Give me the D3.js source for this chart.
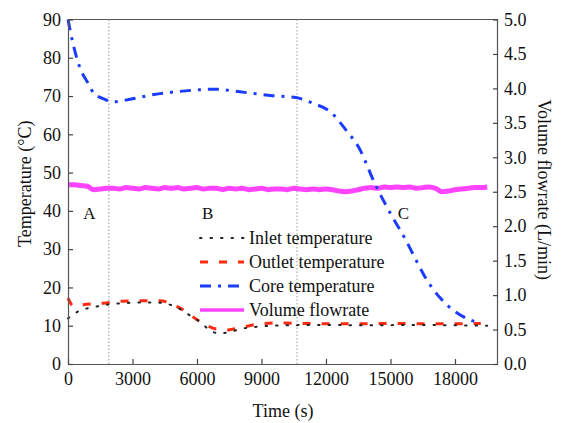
<!DOCTYPE html>
<html>
<head>
<meta charset="utf-8">
<script src="https://cdn.jsdelivr.net/npm/d3@7"></script>
<style>
  body { margin: 0; background: #fff; }
  text { font-family: "Liberation Serif", "Times New Roman", serif; fill: #111; }
</style>
</head>
<body>
<script>
// values
const coreTime = [0, 200, 560, 930, 1200, 1600, 2100, 3000, 4000, 5000, 6000, 6800, 8000, 9500, 10600, 11400, 12200, 13000, 13500, 14300, 15000, 15700, 16200, 16600, 17400, 18400, 19200]
const coreTemp = [90, 84.5, 77.3, 73.4, 70.7, 69.4, 68.5, 69.3, 70.4, 71.1, 71.6, 71.8, 71.1, 70.1, 69.6, 68.1, 65.9, 60.6, 56.8, 46.8, 39.3, 32.5, 27.0, 22.8, 16.7, 12.3, 10.6]

const inletTime = [0, 400, 870, 1330, 1950, 3000, 4000, 4900, 5750, 6140, 6680, 7070, 7530, 8150, 8930, 10000, 12000, 14000, 16000, 18000, 19500]
const inletTemp = [11.9, 13.5, 14.5, 15.0, 15.6, 16.0, 16.1, 15.2, 12.4, 11.0, 8.5, 8.0, 8.4, 9.3, 9.8, 10.1, 10.2, 10.1, 10.2, 10.1, 10.0]

const outletTime = [0, 250, 700, 1640, 2570, 3500, 4280, 5210, 6140, 6915, 7400, 7845, 8930, 9700, 11000, 13000, 15000, 17000, 19200]
const outletTemp = [17.2, 15.2, 15.5, 15.9, 16.4, 16.5, 16.5, 14.6, 11.1, 9.1, 8.9, 9.3, 10.5, 10.7, 10.6, 10.5, 10.6, 10.5, 10.6]

const flowTime = [0, 300, 600, 900, 1200, 1500, 1800, 2100, 2400, 2700, 3000, 3300, 3600, 3900, 4200, 4500, 4800, 5100, 5400, 5700,
  6000, 6300, 6600, 6900, 7200, 7500, 7800, 8100, 8400, 8700, 9000, 9300, 9600, 9900, 10200, 10500, 10800, 11100, 11400, 11700,
  12000, 12300, 12600, 12900, 13200, 13500, 13800, 14100, 14400, 14700, 15000, 15300, 15600, 15900, 16200, 16500, 16800, 17100, 17400, 17700,
  18000, 18300, 18600, 18900, 19200, 19500]
const flowRate = [2.60, 2.60, 2.59, 2.58, 2.53, 2.54, 2.55, 2.55, 2.54, 2.56, 2.55, 2.54, 2.56, 2.55, 2.54, 2.56, 2.55, 2.56, 2.54, 2.55,
  2.56, 2.54, 2.55, 2.55, 2.53, 2.55, 2.54, 2.55, 2.53, 2.54, 2.55, 2.53, 2.54, 2.54, 2.53, 2.55, 2.54, 2.53, 2.54, 2.53,
  2.54, 2.53, 2.51, 2.50, 2.51, 2.53, 2.55, 2.56, 2.55, 2.57, 2.56, 2.57, 2.56, 2.57, 2.55, 2.56, 2.57, 2.55, 2.50, 2.51,
  2.53, 2.54, 2.55, 2.56, 2.56, 2.57]

const xTicks = [0, 3000, 6000, 9000, 12000, 15000, 18000]
const phaseLines = [1900, 10650]
const phaseLabels = [{t: 1000, label: 'A'}, {t: 6500, label: 'B'}, {t: 15600, label: 'C'}]

const legendItems = [
  {name: 'Inlet temperature', cls: 'inlet'},
  {name: 'Outlet temperature', cls: 'outlet'},
  {name: 'Core temperature', cls: 'core'},
  {name: 'Volume flowrate', cls: 'flow'},
]

const styles = {
  inlet:  {stroke: '#222', width: 2, dash: '1.5,9', cap: 'round'},
  outlet: {stroke: '#ff2a10', width: 3, dash: '8,11', cap: 'butt'},
  core:   {stroke: '#1a3cff', width: 3, dash: '11,7,3,7', cap: 'butt'},
  flow:   {stroke: '#ff44ff', width: 5, dash: null, cap: 'butt'},
}

const W = 566, H = 423
const mLeft = 68, mRight = 498, mTop = 19.5, mBottom = 364

const svg = d3.select('body').append('svg')
  .attr('width', W)
  .attr('height', H)

const x = d3.scaleLinear().domain([0, 20000]).range([mLeft, mRight])
const yT = d3.scaleLinear().domain([0, 90]).range([mBottom, mTop])
const yF = d3.scaleLinear().domain([0, 5]).range([mBottom, mTop])

// frame top
svg.append('line')
  .attr('x1', mLeft).attr('x2', mRight)
  .attr('y1', mTop).attr('y2', mTop)
  .attr('stroke', '#555').attr('stroke-width', 1)

// phase separators
svg.selectAll('line.phase')
  .data(phaseLines)
  .enter()
  .append('line')
  .attr('class', 'phase')
  .attr('x1', d => x(d)).attr('x2', d => x(d))
  .attr('y1', mTop).attr('y2', mBottom)
  .attr('stroke', '#aaa')
  .attr('stroke-width', 1.2)
  .attr('stroke-dasharray', '1.5,2')

function drawLine(times, vals, yScale, st) {
  const pts = times.map((t, i) => [t, vals[i]])
  const line = d3.line()
    .x(d => x(d[0]))
    .y(d => yScale(d[1]))
    .curve(d3.curveMonotoneX)
  const p = svg.append('path')
    .datum(pts)
    .attr('d', line)
    .attr('fill', 'none')
    .attr('stroke', st.stroke)
    .attr('stroke-width', st.width)
    .attr('stroke-linecap', st.cap)
  if (st.dash) p.attr('stroke-dasharray', st.dash)
}

drawLine(flowTime, flowRate, yF, styles.flow)
drawLine(outletTime, outletTemp, yT, styles.outlet)
drawLine(inletTime, inletTemp, yT, styles.inlet)
drawLine(coreTime, coreTemp, yT, styles.core)

// axes
const xAxis = d3.axisBottom(x).tickValues(xTicks).tickSize(-5).tickPadding(8).tickFormat(d3.format('d'))
const yAxisL = d3.axisLeft(yT).tickValues(d3.range(0, 91, 10)).tickSize(-5).tickPadding(7)
const yAxisR = d3.axisRight(yF).tickValues(d3.range(0, 5.01, 0.5)).tickSize(-5).tickPadding(6).tickFormat(d3.format('.1f'))

function styleAxis(g) {
  g.selectAll('path.domain').attr('stroke', '#555').attr('stroke-width', 1.2)
  g.selectAll('.tick line').attr('stroke', '#444').attr('stroke-width', 1.2)
  g.selectAll('.tick text')
    .attr('font-family', '"Liberation Serif", serif')
    .attr('font-size', 18)
    .attr('fill', '#111')
}

svg.append('g').attr('transform', `translate(0,${mBottom})`).call(xAxis)
  .call(g => g.select('path.domain').attr('d', `M${mLeft},0.5H${mRight}`)).call(styleAxis)
svg.append('g').attr('transform', `translate(${mLeft},0)`).call(yAxisL)
  .call(g => g.select('path.domain').attr('d', `M0.5,${mTop}V${mBottom}`)).call(styleAxis)
svg.append('g').attr('transform', `translate(${mRight},0)`).call(yAxisR)
  .call(g => g.select('path.domain').attr('d', `M-0.5,${mTop}V${mBottom}`)).call(styleAxis)

// axis titles
svg.append('text')
  .attr('x', (mLeft + mRight) / 2)
  .attr('y', 417)
  .attr('text-anchor', 'middle')
  .attr('font-size', 18)
  .text('Time (s)')

svg.append('text')
  .attr('transform', `translate(31,${(mTop + mBottom) / 2 - 8}) rotate(-90)`)
  .attr('text-anchor', 'middle')
  .attr('font-size', 18)
  .text('Temperature (°C)')

svg.append('text')
  .attr('transform', `translate(538,${(mTop + mBottom) / 2 - 2}) rotate(90)`)
  .attr('text-anchor', 'middle')
  .attr('font-size', 18)
  .text('Volume flowrate (L/min)')

// phase labels
svg.selectAll('text.phase')
  .data(phaseLabels)
  .enter()
  .append('text')
  .attr('class', 'phase')
  .attr('x', d => x(d.t))
  .attr('y', yT(38))
  .attr('text-anchor', 'middle')
  .attr('font-size', 17)
  .text(d => d.label)

// legend
const lg = svg.append('g').attr('transform', 'translate(196,238)')
const item = lg.selectAll('g.item')
  .data(legendItems)
  .enter()
  .append('g')
  .attr('class', 'item')
  .attr('transform', (d, i) => `translate(0,${i * 24})`)

item.append('line')
  .attr('x1', 4).attr('x2', 48)
  .attr('y1', 0).attr('y2', 0)
  .attr('stroke', d => styles[d.cls].stroke)
  .attr('stroke-width', d => d.cls === 'flow' ? 3.5 : styles[d.cls].width)
  .attr('stroke-linecap', d => styles[d.cls].cap)
  .attr('stroke-dasharray', d => styles[d.cls].dash || null)

item.append('text')
  .attr('x', 53)
  .attr('y', 6)
  .attr('font-size', 18)
  .text(d => d.name)
</script>
</body>
</html>
